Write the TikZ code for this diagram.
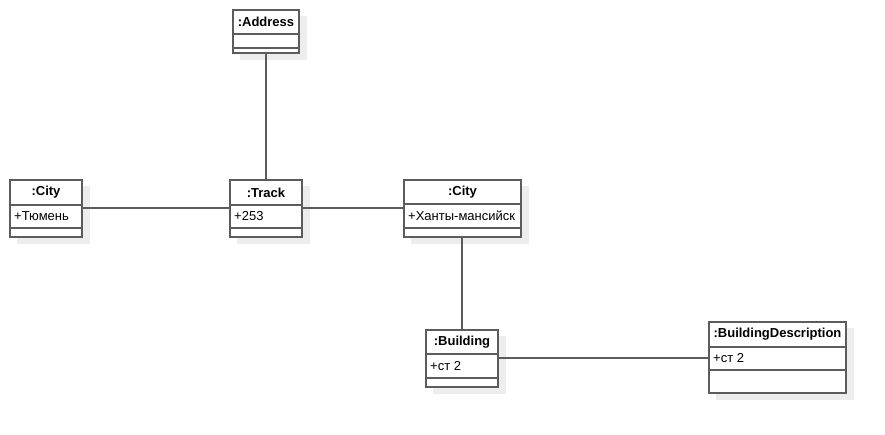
\documentclass[tikz,border=0pt]{standalone}
\usepackage{fontspec}
\setmainfont{Liberation Sans}
\usetikzlibrary{calc}
\definecolor{Edge}{gray}{0.36}
\definecolor{Shade}{gray}{0.93}

\begin{document}
\begin{tikzpicture}[x=1pt,y=-1pt,
		umlbox/.style={draw=Edge, fill=white, line width=1.5pt, inner sep=0pt, outer sep=0pt},
		shade/.style={fill=Shade},
		sep/.style={draw=Edge, line width=1.5pt},
		link/.style={draw=Edge, line width=1.5pt},
		title/.style={font=\fontsize{13}{15}\selectfont\bfseries, inner sep=0pt},
		attr/.style={font=\fontsize{13}{15}\selectfont, inner sep=0pt, anchor=west}]
		\useasboundingbox (0,0) rectangle (885,434);
		%Shadows
		\fill[shade] (240,16) rectangle (307,60);
		\fill[shade] (17,186) rectangle (90,244);
		\fill[shade] (237,186) rectangle (310,244);
		\fill[shade] (411,186) rectangle (529,244);
		\fill[shade] (433,336) rectangle (506,394);
		\fill[shade] (716,328) rectangle (854,400);
		%Links
		\node[umlbox, minimum width=66pt, minimum height=43pt] (addr) at (266,31.5) {};
		\node[umlbox, minimum width=72pt, minimum height=57pt] (cityT) at (46,208.5) {};
		\node[umlbox, minimum width=72pt, minimum height=57pt] (track) at (266,208.5) {};
		\node[umlbox, minimum width=117pt, minimum height=57pt] (cityH) at (462.5,208.5) {};
		\node[umlbox, minimum width=72pt, minimum height=57pt] (bldg) at (462,358.5) {};
		\node[umlbox, minimum width=137pt, minimum height=71pt] (bdesc) at (777.5,357.5) {};
		\draw[link] (addr) -- (track);
		\draw[link] ([yshift=.5pt]cityT.east) -- ([yshift=.5pt]track.west);
		\draw[link] ([yshift=.5pt]track.east) -- ([yshift=.5pt]cityH.west);
		\draw[link] (bldg.north |- cityH.south) -- (bldg.north);
		\draw[link] ([yshift=.5pt]bldg.east) -- ([yshift=.5pt]bldg.east -| bdesc.west);
		%Compartments
		\draw[sep] (addr.west |- 0,34) -- (addr.east |- 0,34);
		\draw[sep] (addr.west |- 0,48) -- (addr.east |- 0,48);
		\draw[sep] (cityT.west |- 0,205) -- (cityT.east |- 0,205);
		\draw[sep] (cityT.west |- 0,228) -- (cityT.east |- 0,228);
		\draw[sep] (track.west |- 0,205) -- (track.east |- 0,205);
		\draw[sep] (track.west |- 0,228) -- (track.east |- 0,228);
		\draw[sep] (cityH.west |- 0,204) -- (cityH.east |- 0,204);
		\draw[sep] (cityH.west |- 0,228) -- (cityH.east |- 0,228);
		\draw[sep] (bldg.west |- 0,354) -- (bldg.east |- 0,354);
		\draw[sep] (bldg.west |- 0,378) -- (bldg.east |- 0,378);
		\draw[sep] (bdesc.west |- 0,347) -- (bdesc.east |- 0,347);
		\draw[sep] (bdesc.west |- 0,370) -- (bdesc.east |- 0,370);
		%Labels
		\node[title] (addrName) at (266,22) {:Address};
		\node[title] (cityTName) at (46,192.5) {:City};
		\node[attr] (cityTAttr) at (14,216.5) {+Тюмень};
		\node[title] (trackName) at (266,192.5) {:Track};
		\node[attr] (trackAttr) at (234,216.5) {+253};
		\node[title] (cityHName) at (462.5,192) {:City};
		\node[attr] (cityHAttr) at (408,216) {+Ханты-мансийск};
		\node[title] (bldgName) at (462,342) {:Building};
		\node[attr] (bldgAttr) at (430,366) {+ст 2};
		\node[title] (bdescName) at (777.5,334.5) {:BuildingDescription};
		\node[attr] (bdescAttr) at (713,358.5) {+ст 2};
	\end{tikzpicture}
\end{document}
